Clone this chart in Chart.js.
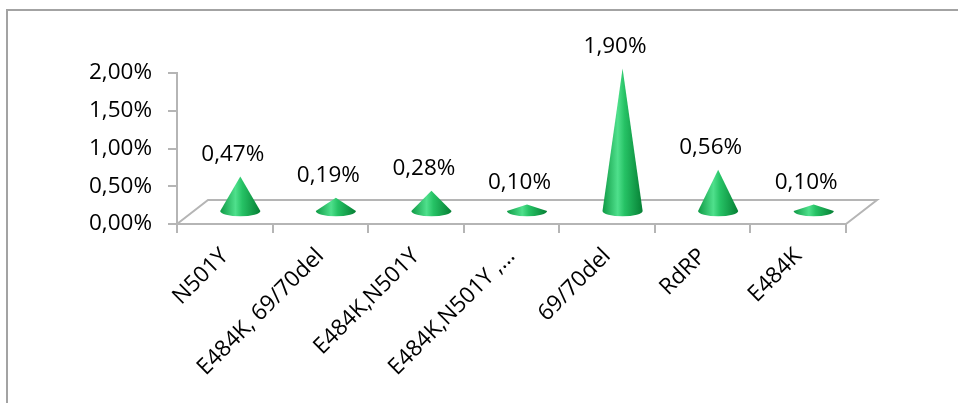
<!DOCTYPE html>
<html>
<head>
<meta charset="utf-8">
<script src="https://cdn.jsdelivr.net/npm/chart.js@4"></script>
<style>
  html, body { margin: 0; padding: 0; background: #fff; overflow: hidden; }
  #wrap { position: relative; width: 958px; height: 403px; }
  #frame { position: absolute; left: 6px; top: 9px; width: 1000px; height: 500px; border: 2px solid #a3a3a3; box-sizing: border-box; }
  #chart { position: absolute; left: 0; top: 0; }
</style>
</head>
<body>
<div id="wrap">
  <div id="frame"></div>
  <canvas id="chart" width="958" height="403"></canvas>
</div>
<script>
// mutations et pourcentages
const categories = ['N501Y', 'E484K, 69/70del', 'E484K,N501Y', 'E484K,N501Y ,...', '69/70del', 'RdRP', 'E484K'];
const values = [0.47, 0.19, 0.28, 0.10, 1.90, 0.56, 0.10];
const yTicks = [0, 0.5, 1, 1.5, 2];

// profondeur du plancher 3D
const DEPTH_X = 31;
const DEPTH_Y = 24;
const GRID = '#b5b5b5';
const FONT = '"Open Sans"';
const FONT_SIZE = 22.5;

function pct(v) {
    return v.toFixed(2).replace('.', ',') + '%';
}

// plancher + cônes + étiquettes
const conePlugin = {
    id: 'cones',
    afterDatasetsDraw(chart) {
        const ctx = chart.ctx;
        const area = chart.chartArea;
        const x0 = chart.scales.y.getPixelForValue(0);

        ctx.save();
        ctx.strokeStyle = GRID;
        ctx.lineWidth = 2;
        ctx.beginPath();
        ctx.moveTo(area.left, x0);
        ctx.lineTo(area.left + DEPTH_X, x0 - DEPTH_Y);
        ctx.lineTo(area.right + DEPTH_X, x0 - DEPTH_Y);
        ctx.lineTo(area.right, x0);
        ctx.stroke();

        const meta = chart.getDatasetMeta(0);
        meta.data.forEach(function(bar, i) {
            const cx = bar.x + DEPTH_X / 2;
            const base = bar.base - DEPTH_Y / 2;
            const tip = bar.y - DEPTH_Y / 2;
            const r = bar.width / 2;
            const ry = r * 0.26;

            const g = ctx.createLinearGradient(cx - r, 0, cx + r, 0);
            g.addColorStop(0, '#0f9a45');
            g.addColorStop(0.38, '#4fe08c');
            g.addColorStop(0.55, '#26c265');
            g.addColorStop(1, '#067f34');

            ctx.beginPath();
            ctx.moveTo(cx, tip);
            ctx.lineTo(cx - r, base);
            ctx.ellipse(cx, base, r, ry, 0, Math.PI, 0, true);
            ctx.closePath();
            ctx.fillStyle = g;
            ctx.fill();

            ctx.fillStyle = '#000';
            ctx.font = FONT_SIZE + 'px ' + FONT;
            ctx.textAlign = 'center';
            ctx.textBaseline = 'middle';
            ctx.fillText(pct(values[i]), bar.x + 8, bar.y - 34);
        });
        ctx.restore();
    }
};

Chart.defaults.font.family = FONT;
Chart.defaults.font.size = FONT_SIZE;
Chart.defaults.color = '#000';

new Chart(document.getElementById('chart'), {
    type: 'bar',
    data: {
        labels: categories,
        datasets: [{
            data: values,
            backgroundColor: 'rgba(0,0,0,0)',
            borderWidth: 0,
            categoryPercentage: 1,
            barPercentage: 0.42
        }]
    },
    options: {
        responsive: false,
        animation: false,
        events: [],
        layout: {
            padding: { top: 73, right: 112, left: 0, bottom: 0 }
        },
        plugins: {
            legend: { display: false },
            tooltip: { enabled: false }
        },
        scales: {
            x: {
                afterFit: function(scale) { scale.height = 179; },
                grid: { drawOnChartArea: false, color: GRID, lineWidth: 2, tickLength: 9, offset: true },
                border: { color: GRID, width: 2 },
                ticks: { minRotation: 45, maxRotation: 45, padding: 10 }
            },
            y: {
                min: 0,
                max: 2,
                afterFit: function(scale) { scale.width = 177; },
                afterBuildTicks: function(scale) {
                    scale.ticks = yTicks.map(function(v) { return { value: v }; });
                },
                grid: { drawOnChartArea: false, color: GRID, lineWidth: 2, tickLength: 9 },
                border: { color: GRID, width: 2 },
                ticks: {
                    padding: 16,
                    callback: function(v) { return pct(v); }
                }
            }
        }
    },
    plugins: [conePlugin]
});
</script>
</body>
</html>
